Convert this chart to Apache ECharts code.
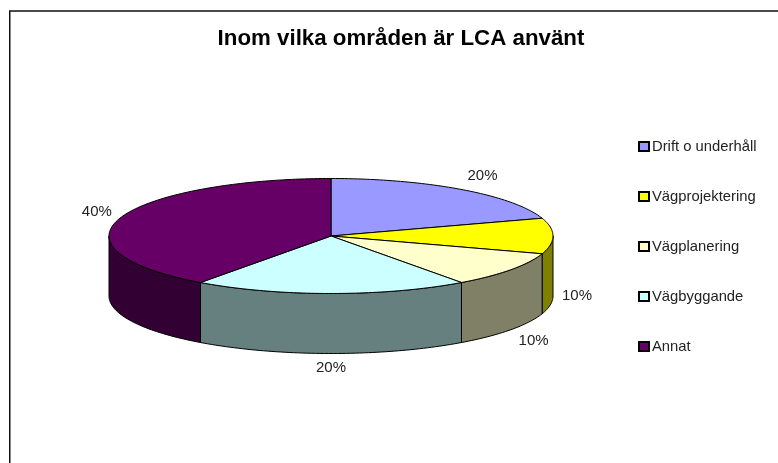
<!DOCTYPE html>
<html>
<head>
<meta charset="utf-8">
<title>Inom vilka områden är LCA använt</title>
<style>
	html, body { margin: 0; padding: 0; background: #fff; }
	#chart { width: 778px; height: 463px; }
</style>
</head>
<body>
<div id="chart"></div>
<script src="https://cdn.jsdelivr.net/npm/echarts@6/dist/echarts.min.js"></script>
<script>
var categories = ['Drift o underhåll', 'Vägprojektering', 'Vägplanering', 'Vägbyggande', 'Annat'];
var values = [20, 10, 10, 20, 40];
var topColors = ['#9999FF', '#FFFF00', '#FFFFCC', '#CCFFFF', '#660066'];
var sideColors = ['#4D4D80', '#808000', '#808066', '#668080', '#330033'];

// pie geometry in pixels
var cx = 331, cy = 236, rx = 222, ry = 57.5, depth = 60;
// label shift from the outer edge of its slice
var labelShift = [[21, -14], [24, 0], [23, 11], [0, 14], [-23, -6]];

var total = values.reduce(function (a, b) { return a + b; }, 0);

// angle runs clockwise from the top of the ellipse
function edge(a, dy) {
	return [cx + rx * Math.sin(a), cy - ry * Math.cos(a) + (dy || 0)];
}
function arc(a0, a1, dy) {
	var pts = [];
	var n = Math.max(2, Math.ceil((a1 - a0) / 0.02));
	for (var i = 0; i <= n; i++) {
		pts.push(edge(a0 + (a1 - a0) * i / n, dy));
	}
	return pts;
}

function makeRenderItem(idx) {
	return function (params, api) {
		var before = values.slice(0, idx).reduce(function (a, b) { return a + b; }, 0);
		var a0 = before / total * Math.PI * 2;
		var a1 = (before + api.value(0)) / total * Math.PI * 2;
		var mid = (a0 + a1) / 2;
		var children = [];

		// side wall only where the slice faces the viewer
		var s0 = Math.max(a0, Math.PI / 2);
		var s1 = Math.min(a1, Math.PI * 1.5);
		if (s1 > s0) {
			children.push({
				type: 'polygon',
				shape: { points: arc(s0, s1, 0).concat(arc(s0, s1, depth).reverse()) },
				style: { fill: sideColors[idx], stroke: '#000', lineWidth: 1 }
			});
		}
		children.push({
			type: 'polygon',
			shape: { points: [[cx, cy]].concat(arc(a0, a1, 0)) },
			style: { fill: api.visual('color'), stroke: '#000', lineWidth: 1 }
		});

		var front = Math.cos(mid) <= 0.01;
		var p = edge(mid, front ? depth : 0);
		children.push({
			type: 'text',
			x: p[0] + labelShift[idx][0],
			y: p[1] + labelShift[idx][1],
			style: {
				text: Math.round(api.value(0) / total * 100) + '%',
				fill: '#222',
				font: '15px "Liberation Sans", Arial, sans-serif',
				align: 'center',
				verticalAlign: 'middle'
			}
		});
		return { type: 'group', children: children };
	};
}

var chart = echarts.init(document.getElementById('chart'), null, { renderer: 'canvas' });
chart.setOption({
	animation: false,
	backgroundColor: '#fff',
	title: {
		text: 'Inom vilka områden är LCA använt',
		left: 396,
		top: 23,
		textAlign: 'center',
		textStyle: { fontFamily: '"Liberation Sans", Arial, sans-serif', fontSize: 22.3, fontWeight: 'bold', color: '#000' }
	},
	legend: {
		orient: 'vertical',
		left: 633,
		top: 134,
		itemWidth: 10,
		itemHeight: 9,
		itemGap: 35,
		icon: 'rect',
		data: categories,
		textStyle: { fontFamily: '"Liberation Sans", Arial, sans-serif', fontSize: 14.8, color: '#222', padding: [0, 0, 0, -2] }
	},
	graphic: [{
		type: 'polyline',
		shape: { points: [[9.75, 463], [9.75, 11], [778, 11]] },
		style: { fill: null, stroke: '#111', lineWidth: 1.5 },
		silent: true
	}],
	series: categories.map(function (name, i) {
		return {
			type: 'custom',
			name: name,
			coordinateSystem: 'none',
			renderItem: makeRenderItem(i),
			itemStyle: { color: topColors[i], borderColor: '#000', borderWidth: 1 },
			data: [[values[i]]],
			silent: true
		};
	})
});
</script>
</body>
</html>
